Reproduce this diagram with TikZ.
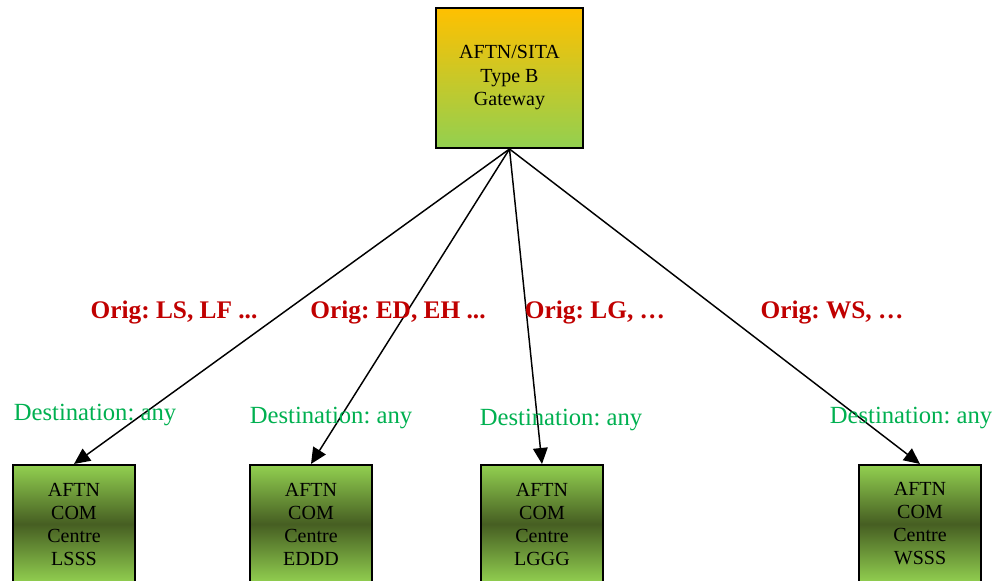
\documentclass[tikz,border=0pt]{standalone}
\usepackage{fontspec}
\setmainfont{Liberation Serif}
\usetikzlibrary{arrows.meta, positioning}
\definecolor{gwtop}{RGB}{255,192,0}
\definecolor{litegreen}{RGB}{146,208,80}
\definecolor{darkolive}{RGB}{70,94,34}
\definecolor{origred}{RGB}{192,0,0}
\definecolor{destgreen}{RGB}{0,176,80}
\frenchspacing

\begin{document}
\begin{tikzpicture}[x=0.75pt, y=0.75pt,
  gatebox/.style={draw, line width=1.5pt, top color=gwtop, bottom color=litegreen, minimum width=110pt, minimum height=105pt, align=center, font=\fontsize{15}{17.6}\selectfont},
  centrebox/.style={draw, line width=1.5pt, top color=litegreen, bottom color=litegreen, middle color=darkolive, minimum width=91.5pt, minimum height=88.5pt, align=center, font=\fontsize{15}{17.25}\selectfont},
  origlabel/.style={text=origred, font=\fontsize{19}{22}\selectfont\bfseries},
  destlabel/.style={text=destgreen, font=\fontsize{18.5}{21}\selectfont},
  route/.style={line width=1.1pt, -{Triangle[length=12pt, width=11pt]}}]

  \useasboundingbox (0,0) rectangle (996,581);

  \node[gatebox] (gw) at (509.5,503) {AFTN/SITA\\Type B\\Gateway};

  \node[centrebox] (lsss) at (74,57) {AFTN\\COM\\Centre\\LSSS};
  \node[centrebox] (eddd) at (311,57) {AFTN\\COM\\Centre\\EDDD};
  \node[centrebox] (lggg) at (542,57) {AFTN\\COM\\Centre\\LGGG};
  \node[centrebox] (wsss) at (920,57) {AFTN\\COM\\Centre\\WSSS};

  \draw[route] (gw.south) -- (lsss.north);
  \draw[route] (gw.south) -- (eddd.north);
  \draw[route] (gw.south) -- (lggg.north);
  \draw[route] (gw.south) -- (wsss.north);

  % routing labels
  \node[origlabel] (origls) at (174,268) {Orig: LS, LF ...};
  \node[origlabel] (origed) at (398,268) {Orig: ED, EH ...};
  \node[origlabel] (origlg) at (595,268) {Orig: LG, \dots};
  \node[origlabel] (origws) at (832,268) {Orig: WS, \dots};

  \node[destlabel] (destls) at (95,166) {Destination: any};
  \node[destlabel] (dested) at (331,163) {Destination: any};
  \node[destlabel] (destlg) at (561,161) {Destination: any};
  \node[destlabel] (destws) at (911,163) {Destination: any};
\end{tikzpicture}
\end{document}
